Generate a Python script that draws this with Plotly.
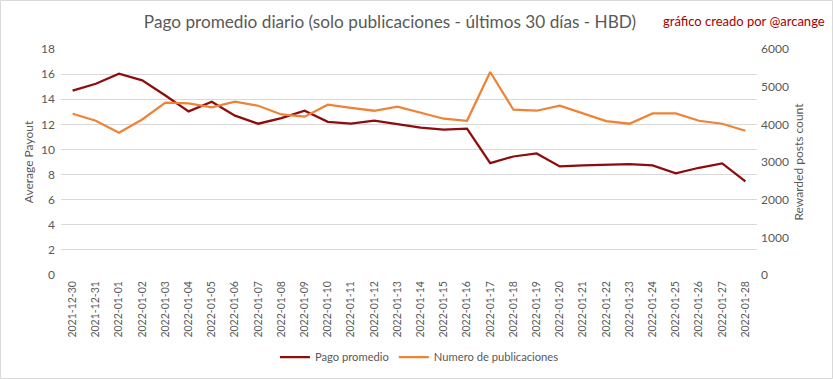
import plotly.graph_objects as go

dates = ["2021-12-30", "2021-12-31"] + [f"2022-01-{d:02d}" for d in range(1, 29)]

pago_promedio = [14.68, 15.23, 16.03, 15.5, 14.3, 13.03, 13.8, 12.69, 12.05, 12.5,
                 13.08, 12.2, 12.05, 12.29, 12.02, 11.73, 11.57, 11.65, 8.91, 9.44,
                 9.68, 8.65, 8.73, 8.81, 8.83, 8.73, 8.09, 8.54, 8.89, 7.45]

numero_publicaciones = [4282, 4095, 3777, 4130, 4574, 4556, 4450, 4600, 4494, 4263,
                        4202, 4520, 4440, 4361, 4467, 4316, 4149, 4095, 5389, 4388,
                        4361, 4494, 4300, 4087, 4016, 4290, 4290, 4095, 4016, 3830]

left_ticks = [0, 2, 4, 6, 8, 10, 12, 14, 16, 18]
right_ticks = [0, 1000, 2000, 3000, 4000, 5000, 6000]

FONT = "Lato"
GRAY = "#595959"
RED = "#8E0C0C"
ORANGE = "#EE8336"

fig = go.Figure()
fig.add_trace(go.Scatter(x=dates, y=pago_promedio, name="Pago promedio",
                         mode="lines", line=dict(color=RED, width=2.25), yaxis="y"))
fig.add_trace(go.Scatter(x=dates, y=numero_publicaciones, name="Numero de publicaciones",
                         mode="lines", line=dict(color=ORANGE, width=2.25), yaxis="y2"))

L, R, T, B = 61, 757, 49, 275
W, H = 833, 379
pw, ph = R - L, B - T

def px(xp):
    return (xp - L) / pw

def py(yp):
    return (B - yp) / ph

fig.update_layout(
    width=W, height=H,
    margin=dict(l=L, r=W - R, t=T, b=H - B, autoexpand=False),
    paper_bgcolor="white", plot_bgcolor="white",
    font=dict(family=FONT, color=GRAY, size=12),
    title=dict(text="Pago promedio diario (solo publicaciones - últimos 30 días - HBD)",
               x=390 / W, xanchor="center", xref="container",
               y=1 - 22 / H, yanchor="middle", yref="container",
               font=dict(family=FONT, size=17.2, color=GRAY)),
    xaxis=dict(type="category", tickangle=-90, showgrid=False, showline=False,
               ticks="", tickfont=dict(size=10.5, color=GRAY), range=[-0.5, 29.5],
               ticklabelstandoff=3),
    yaxis=dict(range=[0, 18], tickvals=left_ticks, showgrid=True, gridcolor="#D9D9D9",
               gridwidth=1, zeroline=False, showline=False, ticks="",
               tickfont=dict(size=12, color=GRAY), ticklabelstandoff=5,
               title=dict(text="Average Payout", font=dict(size=12, color=GRAY), standoff=4)),
    yaxis2=dict(range=[0, 6000], tickvals=right_ticks, overlaying="y", side="right",
                showgrid=False, zeroline=False, showline=False, ticks="",
                tickfont=dict(size=12, color=GRAY), ticklabelstandoff=3,
                title=dict(text="Rewarded posts count", font=dict(size=12, color=GRAY), standoff=6)),
    legend=dict(orientation="h", x=0.515, xanchor="center", y=py(357), yanchor="middle",
                font=dict(size=11.2, color=GRAY), itemwidth=30),
    showlegend=True,
)

fig.add_annotation(text="gráfico creado por @arcange", xref="paper", yref="paper",
                   x=px(744), y=py(21), xanchor="center", yanchor="middle",
                   showarrow=False, font=dict(family=FONT, size=13, color="#A80000"))

fig.add_shape(type="rect", xref="paper", yref="paper",
              x0=px(0.5), x1=px(W - 0.5), y0=py(H - 0.5), y1=py(0.5),
              line=dict(color="#D9D9D9", width=1), layer="below")

fig.write_html("out.html", config={"displayModeBar": False},
               post_script="document.body.style.margin='0';document.body.style.overflow='hidden';")
